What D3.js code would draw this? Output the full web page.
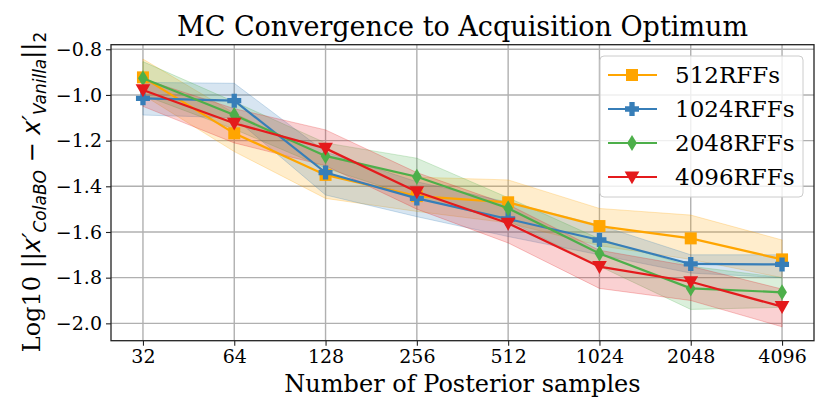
<!DOCTYPE html>
<html>
<head>
<meta charset="utf-8">
<script src="https://cdn.jsdelivr.net/npm/d3@7"></script>
<style>
  body { margin: 0; background: #fff; }
  text { font-family: "DejaVu Serif", serif; fill: #000; }
</style>
</head>
<body>
<svg id="chart" width="830" height="415"></svg>
<script>
// samples on the x axis
var samples = [32, 64, 128, 256, 512, 1024, 2048, 4096];
var yTicks = [-0.8, -1.0, -1.2, -1.4, -1.6, -1.8, -2.0];

// series means
var rff512  = [-0.923, -1.168, -1.350, -1.443, -1.470, -1.574, -1.628, -1.720];
var rff1024 = [-1.015, -1.025, -1.340, -1.453, -1.543, -1.635, -1.740, -1.742];
var rff2048 = [-0.927, -1.088, -1.267, -1.358, -1.496, -1.694, -1.847, -1.864];
var rff4096 = [-0.978, -1.124, -1.234, -1.424, -1.562, -1.752, -1.818, -1.927];

// band bounds (upper / lower)
var up512  = [-0.843, -1.080, -1.270, -1.360, -1.372, -1.497, -1.526, -1.635];
var lo512  = [-1.000, -1.248, -1.453, -1.510, -1.560, -1.660, -1.720, -1.800];
var up1024 = [-0.945, -0.949, -1.250, -1.380, -1.470, -1.570, -1.700, -1.700];
var lo1024 = [-1.088, -1.100, -1.438, -1.533, -1.620, -1.700, -1.780, -1.800];
var up2048 = [-0.854, -1.030, -1.210, -1.277, -1.450, -1.630, -1.750, -1.800];
var lo2048 = [-1.000, -1.150, -1.320, -1.450, -1.550, -1.750, -1.939, -1.930];
var up4096 = [-0.930, -1.060, -1.153, -1.340, -1.480, -1.680, -1.750, -1.850];
var lo4096 = [-1.050, -1.210, -1.310, -1.500, -1.648, -1.847, -1.900, -2.015];

var names = ["512RFFs", "1024RFFs", "2048RFFs", "4096RFFs"];
var colors = ["#ffa500", "#377eb8", "#4daf4a", "#e41a1c"];

var series = [
  {name: names[0], color: colors[0], mean: rff512,  up: up512,  lo: lo512,  marker: "square"},
  {name: names[1], color: colors[1], mean: rff1024, up: up1024, lo: lo1024, marker: "plus"},
  {name: names[2], color: colors[2], mean: rff2048, up: up2048, lo: lo2048, marker: "diamond"},
  {name: names[3], color: colors[3], mean: rff4096, up: up4096, lo: lo4096, marker: "tri"}
];

var L = 111, R = 814, T = 44.7, B = 340.7;
var svg = d3.select("#chart");

var x = d3.scaleLog().base(2)
  .domain([Math.pow(2, 5 - 0.35), Math.pow(2, 12 + 0.35)])
  .range([L, R]);
var y = d3.scaleLinear().domain([-2.076, -0.78]).range([B, T]);

// grid
var grid = svg.append("g");
grid.selectAll(".gx").data(samples).enter().append("line")
  .attr("x1", d => x(d)).attr("x2", d => x(d))
  .attr("y1", T).attr("y2", B)
  .attr("stroke", "#b0b0b0").attr("stroke-width", 1.4);
grid.selectAll(".gy").data(yTicks).enter().append("line")
  .attr("x1", L).attr("x2", R)
  .attr("y1", d => y(d)).attr("y2", d => y(d))
  .attr("stroke", "#b0b0b0").attr("stroke-width", 1.4);

// bands
var area = d3.area()
  .x((d, i) => x(samples[i]))
  .y0(d => y(d[1]))
  .y1(d => y(d[0]));
series.forEach(function(s){
  var pts = s.up.map((u, i) => [u, s.lo[i]]);
  svg.append("path").datum(pts)
    .attr("d", area)
    .attr("fill", s.color).attr("fill-opacity", 0.2)
    .attr("stroke", s.color).attr("stroke-opacity", 0.25);
});

// marker shapes
function markerPath(kind, r){
  if(kind == "square") return "M" + (-r) + "," + (-r) + "h" + 2*r + "v" + 2*r + "h" + (-2*r) + "Z";
  if(kind == "diamond") return "M0," + (-r*1.15) + "L" + (r*0.7) + ",0L0," + (r*1.15) + "L" + (-r*0.7) + ",0Z";
  if(kind == "tri") return "M" + (-r*1.05) + "," + (-r*0.8) + "L" + (r*1.05) + "," + (-r*0.8) + "L0," + (r*1.05) + "Z";
  // filled plus
  var a = r, b = r * 0.38;
  return "M" + (-b) + "," + (-a) + "H" + b + "V" + (-b) + "H" + a + "V" + b + "H" + b + "V" + a +
    "H" + (-b) + "V" + b + "H" + (-a) + "V" + (-b) + "H" + (-b) + "Z";
}

var line = d3.line().x((d, i) => x(samples[i])).y(d => y(d));
series.forEach(function(s){
  svg.append("path").datum(s.mean)
    .attr("d", line).attr("fill", "none")
    .attr("stroke", s.color).attr("stroke-width", 2.2);
  svg.selectAll(null).data(s.mean).enter().append("path")
    .attr("transform", (d, i) => "translate(" + x(samples[i]) + "," + y(d) + ")")
    .attr("d", markerPath(s.marker, s.marker == "square" ? 6 : 7))
    .attr("fill", s.color);
});

// axes
var xAxis = d3.axisBottom(x).tickValues(samples).tickFormat(d3.format("d")).tickSizeOuter(0).tickSize(5).tickPadding(4);
var yAxis = d3.axisLeft(y).tickValues(yTicks).tickFormat(d => d3.format(".1f")(d).replace("-", "\u2212")).tickSizeOuter(0).tickSize(5).tickPadding(4);

var gx = svg.append("g").attr("transform", "translate(0," + B + ")").call(xAxis);
var gy = svg.append("g").attr("transform", "translate(" + L + ",0)").call(yAxis);
[gx, gy].forEach(function(g){
  g.select(".domain").remove();
  g.selectAll("text").style("font-family", "DejaVu Serif").style("font-size", "19px").attr("fill", "#000");
  g.selectAll("line").attr("stroke", "#222").attr("stroke-width", 1.1);
});

svg.append("rect").attr("x", L).attr("y", T).attr("width", R - L).attr("height", B - T)
  .attr("fill", "none").attr("stroke", "#222").attr("stroke-width", 1.3);

// titles
svg.append("text").attr("x", (L + R) / 2).attr("y", 36)
  .attr("text-anchor", "middle").style("font-size", "27px")
  .text("MC Convergence to Acquisition Optimum");
svg.append("text").attr("x", (L + R) / 2).attr("y", 392)
  .attr("text-anchor", "middle").style("font-size", "24px")
  .text("Number of Posterior samples");

var yl = svg.append("text")
  .attr("transform", "translate(40,192) rotate(-90)")
  .attr("text-anchor", "middle").style("font-size", "24px");
var sans = "DejaVu Sans";
yl.append("tspan").text("Log10 ");
yl.append("tspan").style("font-family", sans).text("||");
yl.append("tspan").style("font-family", sans).style("font-style", "italic").text("x\u2032");
yl.append("tspan").style("font-family", sans).style("font-style", "italic").style("font-size", "17px").attr("dy", 6).text("ColaBO");
yl.append("tspan").style("font-family", sans).attr("dy", -6).text(" \u2212 ");
yl.append("tspan").style("font-family", sans).style("font-style", "italic").text("x\u2032");
yl.append("tspan").style("font-family", sans).style("font-style", "italic").style("font-size", "17px").attr("dy", 6).text("Vanilla");
yl.append("tspan").style("font-family", sans).attr("dy", -6).text("||");
yl.append("tspan").style("font-family", sans).style("font-size", "17px").attr("dy", 6).text("2");

// legend
var lg = svg.append("g").attr("transform", "translate(600,56)");
lg.append("rect").attr("width", 203).attr("height", 141).attr("rx", 4)
  .attr("fill", "#fff").attr("fill-opacity", 0.8).attr("stroke", "#ccc").attr("stroke-width", 1);
series.forEach(function(s, i){
  var cy = 19 + i * 34;
  lg.append("line").attr("x1", 8).attr("x2", 57).attr("y1", cy).attr("y2", cy)
    .attr("stroke", s.color).attr("stroke-width", 2.2);
  lg.append("path").attr("transform", "translate(32," + cy + ")")
    .attr("d", markerPath(s.marker, s.marker == "square" ? 6 : 7)).attr("fill", s.color);
  lg.append("text").attr("x", 75).attr("y", cy + 8).style("font-size", "23px").text(s.name);
});
</script>
</body>
</html>
